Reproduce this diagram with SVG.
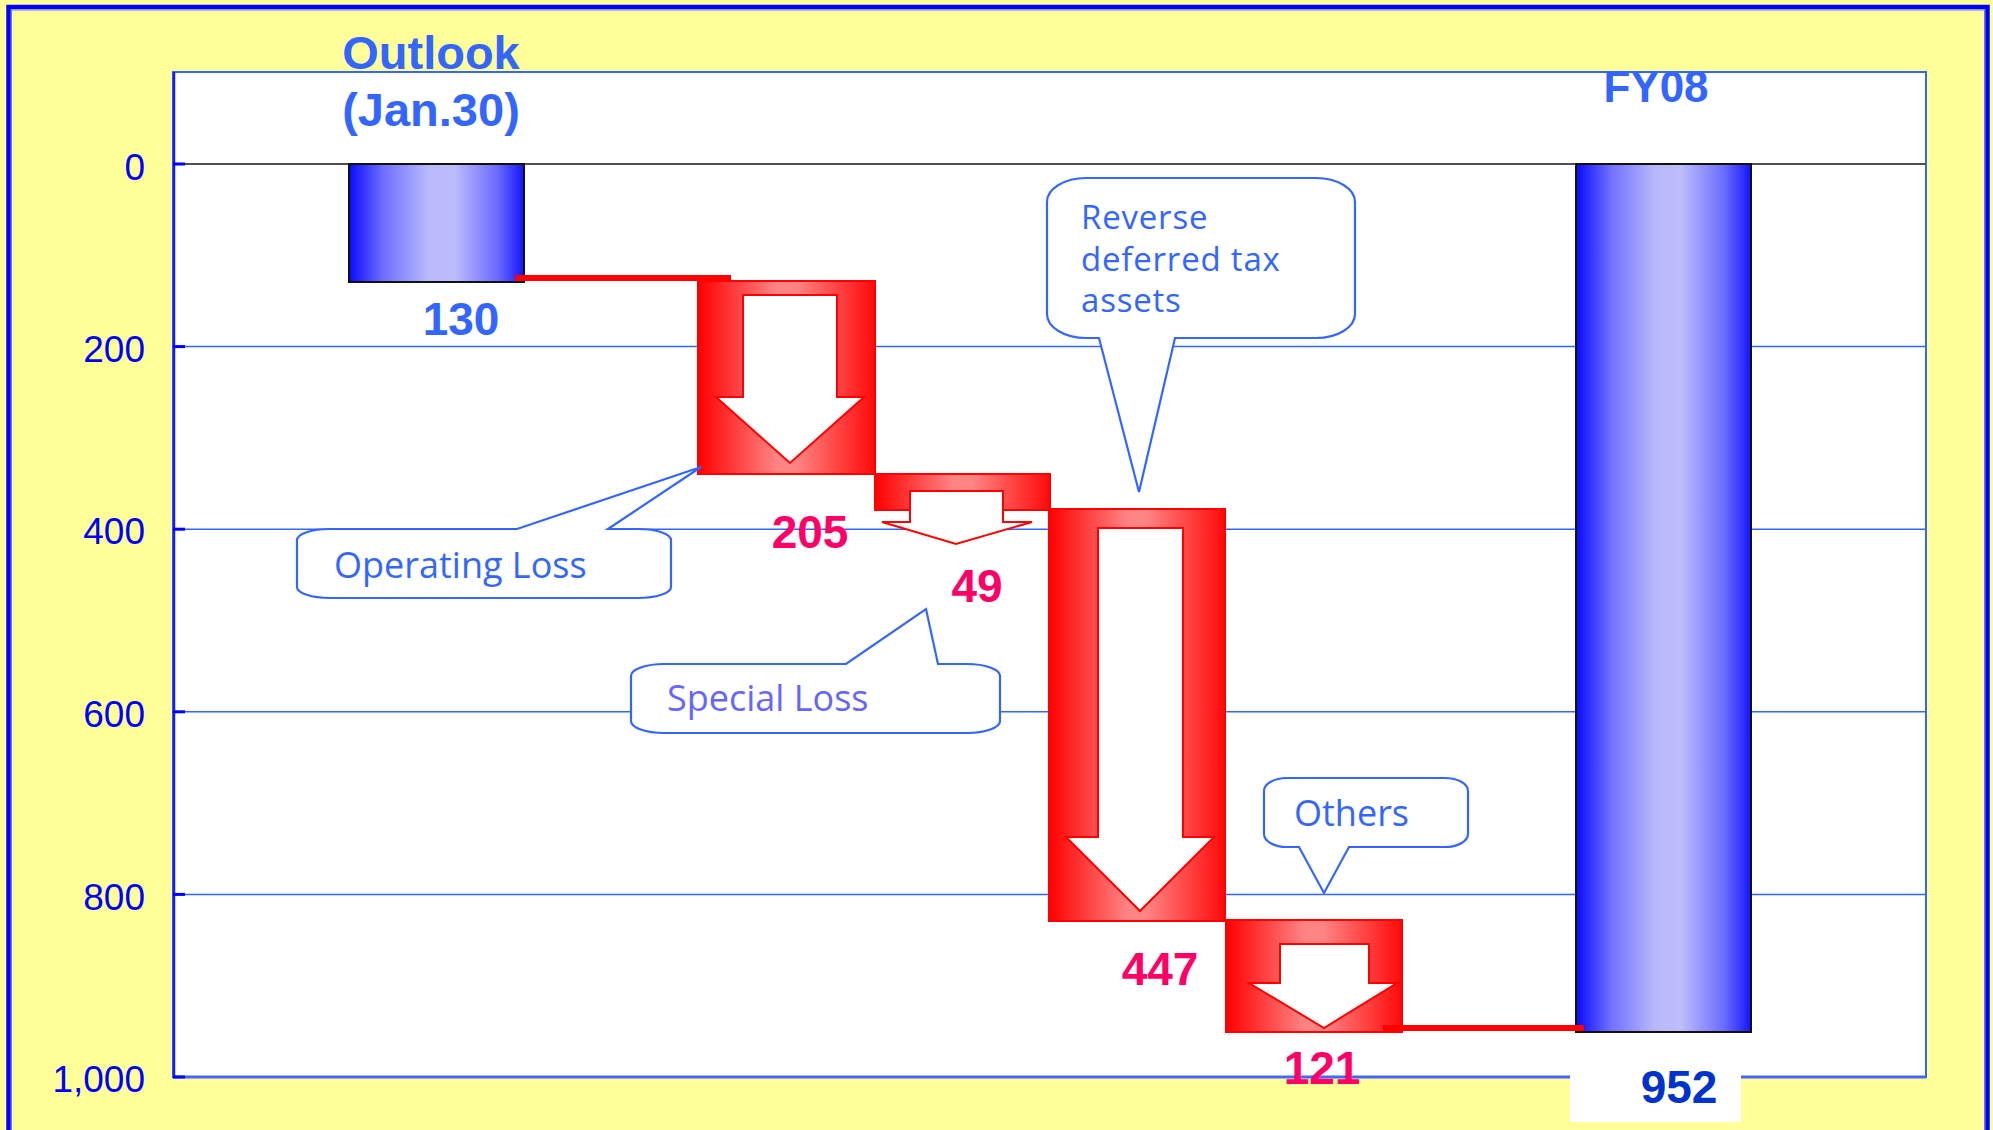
<svg xmlns="http://www.w3.org/2000/svg" width="1993" height="1130" viewBox="0 0 1993 1130">
<defs>
<linearGradient id="blueGrad" x1="0" y1="0" x2="1" y2="0">
<stop offset="0" stop-color="#0A0AFF"/>
<stop offset="0.2" stop-color="#7070FF"/>
<stop offset="0.45" stop-color="#B8B8FC"/>
<stop offset="0.6" stop-color="#BDBDFC"/>
<stop offset="0.85" stop-color="#6A6AFF"/>
<stop offset="1" stop-color="#1515FF"/>
</linearGradient>
<linearGradient id="redGrad" x1="0" y1="0" x2="1" y2="0">
<stop offset="0" stop-color="#FF0000"/>
<stop offset="0.45" stop-color="#FF8585"/>
<stop offset="0.55" stop-color="#FF8585"/>
<stop offset="1" stop-color="#FF0A0A"/>
</linearGradient>
<style>
.ytxt{font-family:"Liberation Sans",Arial,sans-serif;font-size:37px;fill:#0000FF;text-anchor:end}
.grid{stroke:#3366FF;stroke-width:1.5;fill:none}
.tick{stroke:#0000FF;stroke-width:3}
.bar{fill:url(#blueGrad);stroke:#111111;stroke-width:2}
.step{fill:url(#redGrad);stroke:#FF0000;stroke-width:2}
.arrow{fill:#FFFFFF;stroke:#FF0000;stroke-width:2;stroke-linejoin:miter}
.call{fill:#FFFFFF;stroke:#3366FF;stroke-width:2.2;stroke-linejoin:miter}
.ctxt{font-family:"Open Sans","Liberation Sans",sans-serif;font-size:36px;fill:#3366FF}
.ctxs{font-family:"Open Sans","Liberation Sans",sans-serif;font-size:33px;letter-spacing:0.8px;fill:#3366FF}
.head{font-family:"Liberation Sans",Arial,sans-serif;font-size:47px;font-weight:bold;fill:#3366FF;text-anchor:middle}
.val{font-family:"Liberation Sans",Arial,sans-serif;font-size:46px;font-weight:bold;fill:#FF0066;text-anchor:middle}
.conn{fill:#FF0000}
</style>
</defs>
<!-- background -->
<rect x="0" y="0" width="1993" height="1130" fill="#FFFF99"/>
<rect x="8.5" y="7" width="1979" height="1200" fill="none" stroke="#0000FF" stroke-width="4.5"/>
<rect x="11.5" y="10" width="1973" height="1200" fill="none" stroke="#7070FF" stroke-width="1"/>
<!-- plot area -->
<rect x="173" y="72" width="1753" height="1005" fill="#FFFFFF" stroke="#3366FF" stroke-width="2"/>
<g id="gridlines">
<line class="grid" x1="173" y1="346.6" x2="1926" y2="346.6"/>
<line class="grid" x1="173" y1="529.2" x2="1926" y2="529.2"/>
<line class="grid" x1="173" y1="711.8" x2="1926" y2="711.8"/>
<line class="grid" x1="173" y1="894.4" x2="1926" y2="894.4"/>
<line x1="173" y1="164" x2="1926" y2="164" stroke="#505050" stroke-width="2"/>
<line x1="173" y1="1077" x2="1926" y2="1077" stroke="#4466FF" stroke-width="3"/>
<line x1="174" y1="72" x2="174" y2="1078" stroke="#1A1AFF" stroke-width="2.5"/>
</g>
<g id="y-axis">
<line class="tick" x1="173" y1="164" x2="185" y2="164"/>
<line class="tick" x1="173" y1="346.6" x2="185" y2="346.6"/>
<line class="tick" x1="173" y1="529.2" x2="185" y2="529.2"/>
<line class="tick" x1="173" y1="711.8" x2="185" y2="711.8"/>
<line class="tick" x1="173" y1="894.4" x2="185" y2="894.4"/>
<line class="tick" x1="173" y1="1077" x2="185" y2="1077"/>
<text class="ytxt" x="145" y="180">0</text>
<text class="ytxt" x="145" y="362">200</text>
<text class="ytxt" x="145" y="544">400</text>
<text class="ytxt" x="145" y="727">600</text>
<text class="ytxt" x="145" y="910">800</text>
<text class="ytxt" x="145" y="1092">1,000</text>
</g>
<!-- Outlook bar -->
<g id="bar-outlook">
<rect class="bar" x="349" y="164" width="175" height="118"/>
<text class="head" x="431" y="69">Outlook</text>
<text class="head" x="431" y="126">(Jan.30)</text>
<text class="head" x="461" y="335" style="font-size:46px">130</text>
</g>
<!-- FY08 bar -->
<g id="bar-fy08">
<rect class="bar" x="1576" y="164" width="175" height="868"/>
<text class="head" x="1656" y="102" style="font-size:44px">FY08</text>
<rect x="1570" y="1040" width="171" height="82" fill="#FFFFFF"/>
<text class="head" x="1679" y="1103" style="fill:#0033CC;font-size:46px">952</text>
</g>
<!-- Step: Operating Loss -->
<g id="step-operating">
<rect class="step" x="698" y="281" width="177" height="193"/>
<path class="arrow" d="M743,295 L837,295 L837,397 L864,397 L790,463 L716,397 L743,397 Z"/>
<text class="val" x="810" y="548">205</text>
</g>
<!-- Step: Special Loss -->
<g id="step-special">
<rect class="step" x="875" y="474" width="175" height="36"/>
<path class="arrow" d="M910,491 L1003,491 L1003,522 L1032,522 L956,544 L882,522 L910,522 Z"/>
<text class="val" x="977" y="602">49</text>
</g>
<!-- Step: Reverse deferred tax assets -->
<g id="step-deferred">
<rect class="step" x="1049" y="509" width="176" height="412"/>
<path class="arrow" d="M1098,528 L1183,528 L1183,837 L1214,837 L1140,911 L1066,837 L1098,837 Z"/>
<text class="val" x="1160" y="985">447</text>
</g>
<!-- Step: Others -->
<g id="step-others">
<rect class="step" x="1226" y="920" width="176" height="112"/>
<path class="arrow" d="M1280,944 L1369,944 L1369,983 L1397,983 L1324,1028 L1249,983 L1280,983 Z"/>
<text class="val" x="1322" y="1084">121</text>
</g>
<!-- connectors -->
<g id="connectors">
<rect class="conn" x="515" y="275" width="216" height="6"/>
<rect class="conn" x="1383" y="1025" width="201" height="6"/>
</g>
<!-- callouts -->
<g id="callout-operating">
<path class="call" d="M330,529 L517,529 L701,467 L608,529 L638,529 A33 11 0 0 1 671,540 L671,587 A33 11 0 0 1 638,598 L330,598 A33 11 0 0 1 297,587 L297,540 A33 11 0 0 1 330,529 Z"/>
<text class="ctxt" x="334" y="578">Operating Loss</text>
</g>
<g id="callout-special">
<path class="call" d="M664,664 L846,664 L926,609 L938,664 L967,664 A33 12 0 0 1 1000,676 L1000,721 A33 12 0 0 1 967,733 L664,733 A33 12 0 0 1 631,721 L631,676 A33 12 0 0 1 664,664 Z"/>
<text class="ctxt" x="667" y="711" style="fill:#6666FF">Special Loss</text>
</g>
<g id="callout-deferred">
<path class="call" d="M1086,178 L1316,178 A39 24 0 0 1 1355,202 L1355,314 A39 24 0 0 1 1316,338 L1175,338 L1139,492 L1099,338 L1086,338 A39 24 0 0 1 1047,314 L1047,202 A39 24 0 0 1 1086,178 Z"/>
<text class="ctxs" x="1081" y="229">Reverse</text>
<text class="ctxs" x="1081" y="271">deferred tax</text>
<text class="ctxs" x="1081" y="312">assets</text>
</g>
<g id="callout-others">
<path class="call" d="M1287,778 L1445,778 A23 13 0 0 1 1468,791 L1468,834 A23 13 0 0 1 1445,847 L1349,847 L1324,893 L1299,847 L1287,847 A23 13 0 0 1 1264,834 L1264,791 A23 13 0 0 1 1287,778 Z"/>
<text class="ctxt" x="1294" y="826">Others</text>
</g>
</svg>
